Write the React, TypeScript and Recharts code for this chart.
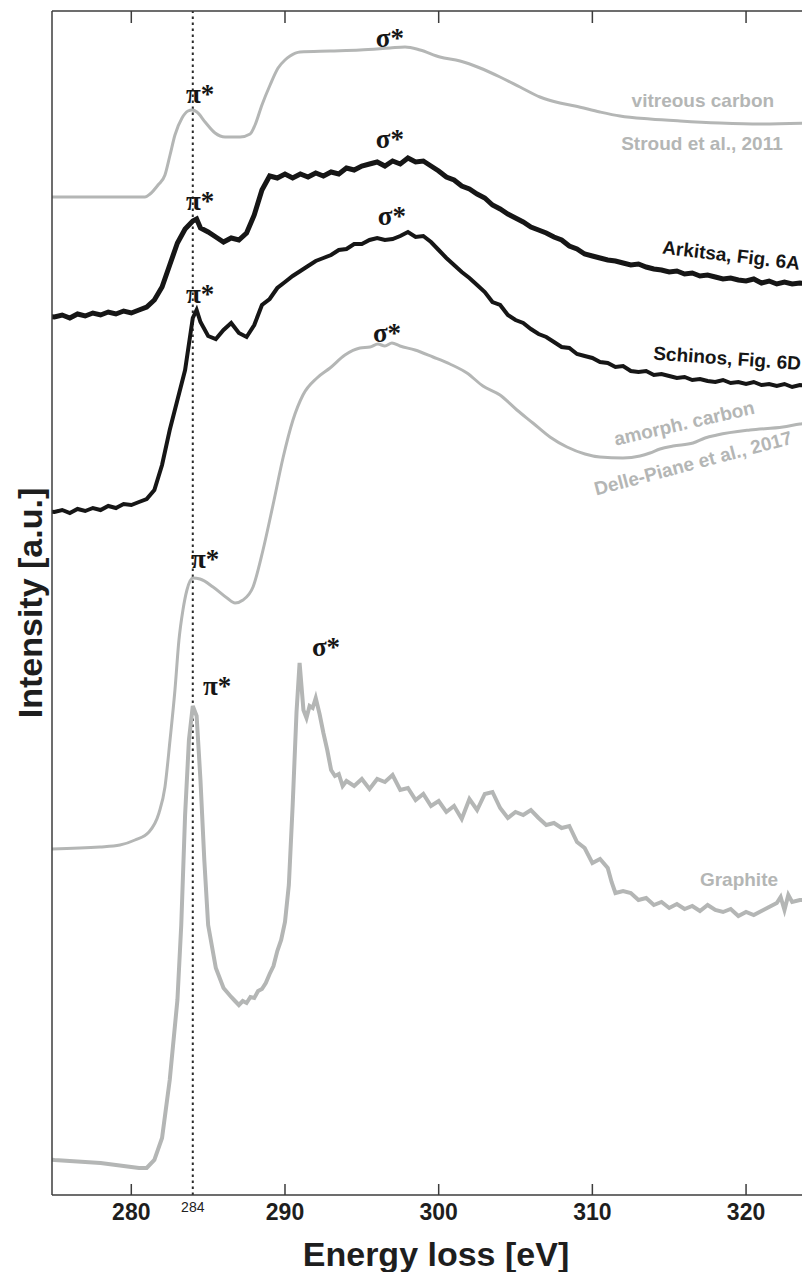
import React from 'react';
import { LineChart, Line, XAxis, YAxis, ReferenceLine, ReferenceDot } from 'recharts';

const SANS = '"Liberation Sans", Arial, Helvetica, sans-serif';
const SERIF = '"Liberation Serif", "Times New Roman", serif';
const GRAY = '#b4b6b5';
const BLACK = '#161616';
const AXIS = '#3c3c3c';

const xTicks = [280, 284, 290, 300, 310, 320];
const topTicks = [280, 290, 300, 310, 320];
const xDomain: [number, number] = [274.84, 323.64];
const yMax = 1184;

// vitreous carbon (Stroud et al., 2011)
const vitreousEnergy = [274.5, 280.89, 281.22, 281.74, 282.19, 282.52, 282.84, 283.3, 283.69, 283.95, 284.27, 284.8, 285.45, 286.1, 287.08, 287.73, 288.05, 288.5, 289.03, 289.55, 290.0, 290.33, 290.98, 292.93, 294.88, 296.83, 297.81, 298.79, 300.08, 301.39, 302.69, 303.99, 305.29, 306.59, 307.89, 308.87, 310.49, 311.8, 313.75, 315.7, 318.3, 320.91, 324.0];
const vitreousIntensity = [998, 998, 1001, 1010, 1020, 1040, 1060, 1077, 1084, 1085, 1083, 1073, 1062, 1058, 1058, 1061, 1070, 1090, 1110, 1127, 1135, 1139, 1143, 1144, 1145, 1147, 1148, 1145, 1138, 1134, 1127, 1118, 1108, 1098, 1092, 1089, 1083, 1079, 1076, 1074, 1072, 1071, 1072];

// shared energy grid for the two measured spectra
const gridEnergy = [274.5, 275, 275.5, 276, 276.5, 277, 277.5, 278, 278.5, 279, 279.5, 280, 280.5, 281, 281.5, 282, 282.5, 283, 283.5, 284, 284.25, 284.5, 285, 285.5, 286, 286.5, 287, 287.5, 288, 288.5, 289, 289.5, 290, 290.5, 291, 291.5, 292, 292.5, 293, 293.5, 294, 294.5, 295, 295.5, 296, 296.5, 297, 297.5, 298, 298.5, 299, 299.5, 300, 300.5, 301, 301.5, 302, 302.5, 303, 303.5, 304, 304.5, 305, 305.5, 306, 306.5, 307, 307.5, 308, 308.5, 309, 309.5, 310, 310.5, 311, 311.5, 312, 312.5, 313, 313.5, 314, 314.5, 315, 315.5, 316, 316.5, 317, 317.5, 318, 318.5, 319, 319.5, 320, 320.5, 321, 321.5, 322, 322.5, 323, 323.5, 324];

// Arkitsa, Fig. 6A
const arkitsaIntensity = [879, 878, 880, 877, 881, 879, 882, 880, 883, 881, 884, 882, 885, 888, 895, 908, 930, 952, 966, 974, 976, 967, 963, 958, 953, 957, 955, 962, 980, 1005, 1019, 1017, 1021, 1017, 1021, 1018, 1022, 1019, 1023, 1021, 1027, 1025, 1029, 1031, 1033, 1029, 1034, 1031, 1037, 1033, 1034, 1029, 1024, 1018, 1015, 1009, 1006, 1001, 997, 990, 986, 981, 977, 973, 968, 965, 962, 958, 955, 949, 946, 941, 939, 937, 935, 934, 932, 930, 931, 928, 926, 925, 923, 924, 921, 922, 919, 920, 918, 916, 917, 915, 914, 916, 912, 914, 911, 913, 911, 912, 911];

// Schinos, Fig. 6D
const schinosIntensity = [684, 683, 685, 682, 686, 684, 687, 685, 689, 687, 691, 690, 693, 696, 705, 730, 765, 795, 825, 877, 885, 873, 859, 856, 865, 872, 862, 858, 870, 890, 896, 907, 913, 919, 924, 929, 934, 937, 940, 945, 946, 951, 951, 955, 957, 955, 956, 959, 963, 958, 959, 953, 945, 937, 930, 923, 917, 910, 903, 893, 890, 880, 875, 872, 866, 861, 858, 853, 848, 847, 841, 839, 837, 833, 832, 828, 829, 824, 823, 824, 820, 821, 819, 817, 818, 815, 816, 814, 813, 815, 812, 813, 811, 813, 810, 811, 809, 811, 808, 810, 809];

// amorphous carbon (Delle-Piane et al., 2017)
const amorphEnergy = [274.5, 277.96, 279.26, 280.24, 281.15, 281.8, 282.19, 282.52, 282.84, 283.1, 283.36, 283.62, 284.01, 284.47, 285.32, 286.23, 286.75, 287.27, 287.92, 288.57, 289.22, 289.87, 290.52, 291.17, 292.08, 292.93, 293.9, 294.88, 295.53, 296.05, 296.5, 296.96, 297.48, 298.46, 299.63, 300.73, 301.84, 302.88, 303.99, 305.09, 306.13, 307.24, 308.35, 309.52, 310.49, 311.99, 313.1, 313.75, 314.4, 315.25, 316.55, 317.33, 318.11, 320.25, 322.4, 323.51, 324.0];
const amorphIntensity = [346, 348, 350, 355, 363, 382, 408, 455, 505, 555, 585, 605, 617, 616, 608, 597, 592, 595, 608, 645, 690, 737, 775, 800, 817, 827, 840, 847, 848, 851, 849, 852, 849, 845, 838, 831, 822, 809, 800, 785, 772, 758, 748, 741, 738, 737, 739, 742, 746, 749, 752, 757, 760, 765, 768, 771, 772];

// Graphite
const graphiteEnergy = [274.5, 275, 276, 277, 278, 279, 280, 280.5, 281, 281.5, 282, 282.5, 283, 283.25, 283.5, 283.75, 284, 284.25, 284.5, 284.75, 285, 285.5, 286, 286.5, 286.75, 287, 287.25, 287.5, 287.75, 288, 288.25, 288.5, 288.75, 289, 289.25, 289.5, 289.75, 290, 290.25, 290.5, 290.75, 290.95, 291.2, 291.4, 291.6, 291.8, 292, 292.25, 292.5, 292.75, 293, 293.25, 293.5, 293.75, 294, 294.5, 295, 295.5, 296, 296.5, 297, 297.5, 298, 298.5, 299, 299.5, 300, 300.5, 301, 301.5, 302, 302.5, 303, 303.5, 304, 304.5, 305, 305.5, 306, 306.5, 307, 307.5, 308, 308.5, 309, 309.5, 310, 310.5, 311, 311.25, 311.5, 312, 312.5, 313, 313.5, 314, 314.5, 315, 315.5, 316, 316.5, 317, 317.5, 318, 318.5, 319, 319.5, 320, 320.5, 321, 321.5, 322, 322.25, 322.5, 322.75, 323, 323.5, 324];
const graphiteIntensity = [36, 35, 34, 33, 32, 30, 28, 27, 27, 35, 57, 115, 195, 270, 380, 455, 489, 479, 415, 335, 270, 227, 207, 198, 194, 190, 194, 192, 198, 197, 204, 206, 212, 221, 229, 244, 255, 273, 310, 390, 483, 532, 485, 477, 489, 487, 497, 481, 462, 445, 425, 419, 421, 409, 414, 409, 416, 406, 416, 413, 420, 405, 407, 395, 401, 389, 394, 383, 389, 376, 396, 385, 401, 403, 387, 377, 383, 380, 385, 377, 370, 372, 367, 369, 353, 347, 332, 336, 327, 313, 302, 304, 302, 295, 297, 290, 293, 287, 291, 286, 289, 284, 290, 285, 283, 286, 279, 283, 280, 284, 288, 292, 298, 285, 300, 293, 295, 295];

type Ann = { text: string; e: number; i: number; angle: number; color: string; size: number; serif?: boolean };
const annotations: Ann[] = [
  { text: 'π*', e: 284.48, i: 1102, angle: 0, color: BLACK, size: 27, serif: true },
  { text: 'σ*', e: 296.83, i: 1158, angle: 0, color: BLACK, size: 27, serif: true },
  { text: 'π*', e: 284.48, i: 995, angle: 0, color: BLACK, size: 27, serif: true },
  { text: 'σ*', e: 296.83, i: 1057, angle: 0, color: BLACK, size: 27, serif: true },
  { text: 'π*', e: 284.48, i: 902, angle: 0, color: BLACK, size: 27, serif: true },
  { text: 'σ*', e: 296.96, i: 980, angle: 0, color: BLACK, size: 27, serif: true },
  { text: 'σ*', e: 296.64, i: 863, angle: 0, color: BLACK, size: 27, serif: true },
  { text: 'π*', e: 284.8, i: 637, angle: 0, color: BLACK, size: 27, serif: true },
  { text: 'π*', e: 285.58, i: 510, angle: 0, color: BLACK, size: 27, serif: true },
  { text: 'σ*', e: 292.67, i: 549, angle: 0, color: BLACK, size: 27, serif: true },
  { text: 'vitreous carbon', e: 317.19, i: 1095, angle: 0, color: GRAY, size: 19 },
  { text: 'Stroud et al., 2011', e: 317.13, i: 1052, angle: 0, color: GRAY, size: 19 },
  { text: 'Arkitsa, Fig. 6A', e: 319.03, i: 940, angle: 6.7, color: BLACK, size: 19 },
  { text: 'Schinos, Fig. 6D', e: 318.77, i: 837, angle: 4, color: BLACK, size: 19 },
  { text: 'amorph. carbon', e: 315.97, i: 772, angle: -13, color: GRAY, size: 19 },
  { text: 'Delle-Piane et al., 2017', e: 316.55, i: 732, angle: -14.8, color: GRAY, size: 19 },
  { text: 'Graphite', e: 319.54, i: 316, angle: 0, color: GRAY, size: 19 },
];

const zip = (e: number[], v: number[]) =>
  e.slice(0, Math.min(e.length, v.length)).map((x, k) => ({ e: x, v: v[k] }));

const vitreousData = zip(vitreousEnergy, vitreousIntensity);
const arkitsaData = zip(gridEnergy, arkitsaIntensity);
const schinosData = zip(gridEnergy, schinosIntensity);
const amorphData = zip(amorphEnergy, amorphIntensity);
const graphiteData = zip(graphiteEnergy, graphiteIntensity);

// inward ticks on the top frame of the plot box
const topTickData = topTicks.map((t) => [{ e: t, v: yMax }, { e: t, v: yMax - 12 }]);

const BottomTick = (props: any) => {
  const { x, y, payload } = props;
  const v = payload.value;
  if (v === 284) {
    return (
      <text x={x} y={y + 17} textAnchor="middle" fontSize={14} fontFamily={SANS} fill="#222">
        284
      </text>
    );
  }
  return (
    <g>
      <line x1={x} x2={x} y1={y} y2={y - 11} stroke={AXIS} strokeWidth={1.5} />
      <text x={x} y={y + 25} textAnchor="middle" fontSize={23} fontWeight="bold" fontFamily={SANS} fill="#1e1e1e">
        {v}
      </text>
    </g>
  );
};

const MARGIN = { top: 11, right: 0, bottom: 0, left: 0 };

// Frame overlay: same geometry and scales as the main chart, draws only the top border and its ticks
function FrameOverlay() {
  return (
    <LineChart width={802} height={1272} margin={MARGIN}>
      <XAxis dataKey="e" type="number" domain={xDomain} allowDataOverflow height={77} tick={false} tickLine={false} axisLine={false} />
      <YAxis type="number" domain={[0, yMax]} allowDataOverflow width={52} tick={false} tickLine={false} axisLine={false} />
      <ReferenceLine y={yMax} stroke={AXIS} strokeWidth={1.5} />
      <Line data={topTickData[0]} dataKey="v" stroke={AXIS} strokeWidth={1.5} dot={false} isAnimationActive={false} />
      <Line data={topTickData[1]} dataKey="v" stroke={AXIS} strokeWidth={1.5} dot={false} isAnimationActive={false} />
      <Line data={topTickData[2]} dataKey="v" stroke={AXIS} strokeWidth={1.5} dot={false} isAnimationActive={false} />
      <Line data={topTickData[3]} dataKey="v" stroke={AXIS} strokeWidth={1.5} dot={false} isAnimationActive={false} />
      <Line data={topTickData[4]} dataKey="v" stroke={AXIS} strokeWidth={1.5} dot={false} isAnimationActive={false} />
    </LineChart>
  );
}

export default function App() {
  return (
    <div style={{ position: 'absolute', left: 0, top: 0, width: 802, height: 1272, background: '#fff' }}>
      <div style={{ position: 'absolute', left: 0, top: 0 }}>
        <LineChart width={802} height={1272} margin={MARGIN}>
          <XAxis
            dataKey="e"
            type="number"
            domain={xDomain}
            allowDataOverflow
            ticks={xTicks}
            interval={0}
            height={77}
            tickSize={0}
            tickMargin={0}
            tickLine={false}
            axisLine={{ stroke: AXIS, strokeWidth: 1.5 }}
            tick={<BottomTick />}
            label={{ value: 'Energy loss [eV]', position: 'insideBottom', offset: 6, dx: 9, fontSize: 34, fontWeight: 'bold', fill: '#1e1e1e', fontFamily: SANS }}
          />
          <YAxis
            type="number"
            domain={[0, yMax]}
            allowDataOverflow
            width={52}
            tick={false}
            axisLine={{ stroke: AXIS, strokeWidth: 1.5 }}
            label={{ value: 'Intensity [a.u.]', angle: -90, position: 'center', dx: 4, fontSize: 34, fontWeight: 'bold', fill: '#1e1e1e', fontFamily: SANS }}
          />
          <ReferenceLine x={284} stroke="#2a2a2a" strokeWidth={2} strokeDasharray="2.5 3.5" />
          <Line data={graphiteData} dataKey="v" type="linear" stroke={GRAY} strokeWidth={4} dot={false} isAnimationActive={false} />
          <Line data={amorphData} dataKey="v" type="monotone" stroke={GRAY} strokeWidth={3} dot={false} isAnimationActive={false} />
          <Line data={vitreousData} dataKey="v" type="monotone" stroke={GRAY} strokeWidth={3} dot={false} isAnimationActive={false} />
          <Line data={schinosData} dataKey="v" type="linear" stroke={BLACK} strokeWidth={4} dot={false} isAnimationActive={false} />
          <Line data={arkitsaData} dataKey="v" type="linear" stroke={BLACK} strokeWidth={5} dot={false} isAnimationActive={false} />
          {annotations.map((a, k) => (
            <ReferenceDot
              key={k}
              x={a.e}
              y={a.i}
              r={0}
              fill="none"
              stroke="none"
              label={{
                value: a.text,
                position: 'center',
                angle: a.angle,
                fill: a.color,
                fontSize: a.size,
                fontWeight: 'bold',
                fontFamily: a.serif ? SERIF : SANS,
              }}
            />
          ))}
        </LineChart>
      </div>
      <div style={{ position: 'absolute', left: 0, top: 0, pointerEvents: 'none' }}>
        <FrameOverlay />
      </div>
    </div>
  );
}
